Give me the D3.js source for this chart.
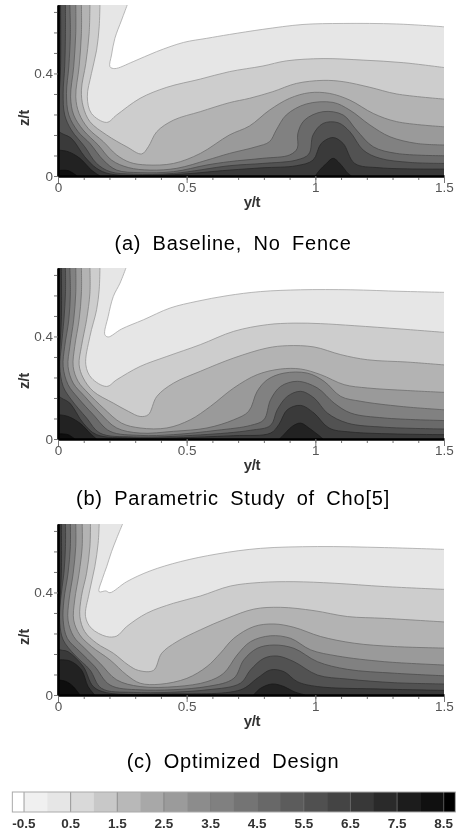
<!DOCTYPE html>
<html>
<head>
  <meta charset="utf-8">
  <title>Contours z/t against y/t</title>
  <script src="https://d3js.org/d3.v7.min.js"></script>
  <style>
    html, body { margin: 0; padding: 0; background: #fff; }
    svg { display: block; filter: blur(0.6px); font-family: "Liberation Sans", Arial, sans-serif; }
    .tick text { fill: #555; font-size: 13.5px; }
    .axis-title { font-weight: bold; font-size: 15px; fill: #333; text-anchor: middle; letter-spacing: -0.3px; }
    .caption { font-size: 20px; fill: #000; text-anchor: middle; word-spacing: 5px; letter-spacing: 0.8px; }
    .legend-label { font-weight: bold; font-size: 13.5px; fill: #333; text-anchor: middle; }
  </style>
</head>
<body>
  <svg width="459" height="833"></svg>

  <script>
    // contour lines, [y/t, z/t], light to dark level
    const baseline = [
      [[.269,.667],[.247,.608],[.221,.537],[.208,.472],[.202,.426],[.221,.419],[.292,.446],[.383,.485],[.488,.521],[.578,.537],[.666,.552],[.796,.572],[.952,.591],[1.108,.595],[1.316,.593],[1.5,.582]],
      [[.163,.667],[.160,.582],[.150,.491],[.130,.400],[.114,.309],[.130,.244],[.189,.209],[.228,.238],[.319,.303],[.423,.346],[.553,.378],[.666,.407],[.796,.429],[.887,.449],[1.030,.458],[1.186,.452],[1.342,.442],[1.5,.423]],
      [[.124,.667],[.121,.556],[.108,.439],[.091,.335],[.098,.270],[.124,.212],[.189,.160],[.267,.114],[.325,.086],[.351,.114],[.384,.173],[.449,.218],[.553,.251],[.666,.286],[.744,.303],[.835,.329],[.926,.361],[1.030,.373],[1.108,.368],[1.212,.346],[1.316,.320],[1.5,.300]],
      [[.091,.667],[.091,.556],[.082,.426],[.069,.309],[.082,.244],[.117,.186],[.176,.134],[.228,.082],[.280,.053],[.345,.043],[.449,.049],[.553,.088],[.666,.160],[.744,.195],[.822,.257],[.900,.303],[.978,.325],[1.056,.322],[1.134,.296],[1.225,.244],[1.316,.212],[1.5,.192]],
      [[.069,.667],[.069,.556],[.061,.426],[.049,.309],[.061,.238],[.098,.179],[.156,.121],[.208,.062],[.273,.033],[.358,.023],[.462,.030],[.579,.062],[.666,.088],[.770,.114],[.822,.134],[.848,.179],[.887,.238],[.965,.281],[1.069,.287],[1.134,.257],[1.212,.199],[1.290,.153],[1.394,.127],[1.5,.121]],
      [[.046,.667],[.048,.556],[.042,.426],[.033,.322],[.042,.238],[.078,.173],[.124,.127],[.176,.062],[.228,.023],[.319,.013],[.449,.017],[.579,.043],[.666,.056],[.796,.069],[.900,.082],[.930,.108],[.932,.166],[.958,.218],[1.030,.251],[1.108,.238],[1.160,.179],[1.225,.114],[1.316,.088],[1.5,.079]],
      [[.029,.667],[.029,.556],[.026,.426],[.020,.322],[.026,.238],[.052,.179],[.104,.114],[.150,.049],[.202,.017],[.293,.007],[.449,.010],[.666,.040],[.796,.049],[.926,.062],[.975,.086],[.991,.160],[1.030,.205],[1.088,.208],[1.134,.173],[1.186,.101],[1.251,.069],[1.368,.053],[1.5,.049]],
      [[.010,.667],[.010,.426],[.004,.300],[0,.179],[.052,.147],[.104,.075],[.150,.030],[.202,.008],[.423,.004],[.666,.023],[.796,.032],[.926,.040],[.991,.062],[1.023,.127],[1.069,.150],[1.108,.127],[1.153,.049],[1.251,.032],[1.5,.027]]
    ];
    const baselineCore = [
      [[0,.101],[.039,.095],[.085,.069],[.130,.023],[.163,0]],
      [[1.0,0],[1.017,.023],[1.043,.049],[1.069,.069],[1.095,.049],[1.127,.010],[1.14,0]],
      [[0,.021],[.039,.021],[.074,0]]
    ];

    const parametric = [
      [[.264,.667],[.241,.608],[.215,.556],[.195,.478],[.182,.407],[.195,.398],[.247,.429],[.332,.465],[.436,.511],[.540,.537],[.657,.559],[.787,.575],[.943,.582],[1.138,.582],[1.333,.576],[1.5,.572]],
      [[.163,.667],[.160,.582],[.150,.504],[.124,.400],[.108,.290],[.130,.238],[.189,.205],[.228,.231],[.319,.283],[.423,.322],[.553,.368],[.683,.420],[.813,.446],[.917,.452],[1.021,.450],[1.151,.442],[1.333,.429],[1.5,.416]],
      [[.124,.667],[.124,.569],[.111,.465],[.091,.361],[.082,.290],[.098,.238],[.137,.186],[.215,.140],[.273,.108],[.319,.088],[.351,.095],[.384,.166],[.449,.218],[.553,.264],[.683,.316],[.813,.355],[.891,.364],[.995,.359],[1.099,.329],[1.203,.309],[1.359,.300],[1.5,.289]],
      [[.091,.667],[.091,.569],[.082,.465],[.065,.361],[.059,.283],[.078,.225],[.117,.179],[.176,.121],[.247,.062],[.319,.043],[.423,.043],[.514,.075],[.592,.127],[.683,.199],[.774,.251],[.865,.273],[.943,.273],[1.021,.251],[1.112,.212],[1.203,.199],[1.359,.189],[1.5,.182]],
      [[.069,.667],[.069,.569],[.061,.465],[.046,.361],[.039,.283],[.059,.218],[.104,.166],[.163,.101],[.228,.043],[.319,.023],[.449,.030],[.579,.043],[.683,.075],[.741,.108],[.774,.186],[.813,.231],[.878,.257],[.969,.257],[1.034,.225],[1.099,.166],[1.177,.147],[1.333,.127],[1.5,.114]],
      [[.046,.667],[.048,.569],[.042,.465],[.026,.361],[.020,.283],[.039,.212],[.078,.160],[.137,.095],[.202,.030],[.319,.014],[.449,.017],[.618,.034],[.748,.053],[.800,.075],[.826,.153],[.865,.205],[.930,.225],[1.008,.199],[1.073,.140],[1.138,.101],[1.268,.082],[1.5,.072]],
      [[.029,.667],[.029,.569],[.023,.465],[.013,.361],[.007,.283],[.020,.205],[.052,.153],[.111,.082],[.163,.023],[.293,.008],[.553,.016],[.748,.034],[.826,.053],[.852,.114],[.891,.166],[.943,.186],[.995,.160],[1.047,.101],[1.125,.062],[1.268,.046],[1.5,.039]],
      [[.013,.667],[.013,.465],[.004,.309],[0,.173],[.046,.140],[.098,.062],[.150,.017],[.293,.004],[.683,.013],[.826,.023],[.858,.056],[.891,.114],[.943,.131],[.995,.101],[1.053,.043],[1.138,.027],[1.5,.017]]
    ];
    const parametricCore = [
      [[0,.095],[.039,.088],[.085,.062],[.130,.017],[.150,0]],
      [[.86,0],[.871,.010],[.910,.049],[.943,.062],[.975,.043],[1.021,.008],[1.03,0]],
      [[0,.020],[.039,.017],[.065,0]]
    ];

    const optimized = [
      [[.251,.667],[.228,.611],[.208,.559],[.189,.500],[.173,.455],[.160,.403],[.186,.406],[.202,.399],[.267,.442],[.358,.484],[.475,.520],[.618,.550],[.787,.572],[1.008,.579],[1.268,.575],[1.5,.568]],
      [[.160,.667],[.156,.592],[.143,.500],[.121,.397],[.107,.306],[.130,.260],[.189,.228],[.228,.230],[.267,.267],[.345,.319],[.449,.358],[.553,.386],[.670,.425],[.787,.439],[.917,.442],[1.073,.436],[1.268,.423],[1.5,.412]],
      [[.126,.667],[.124,.579],[.111,.475],[.091,.384],[.085,.306],[.104,.247],[.150,.202],[.215,.163],[.273,.117],[.312,.096],[.371,.096],[.403,.163],[.462,.208],[.553,.254],[.657,.299],[.761,.335],[.865,.342],[.995,.329],[1.125,.306],[1.268,.299],[1.5,.285]],
      [[.094,.667],[.094,.579],[.082,.475],[.065,.371],[.061,.292],[.085,.234],[.130,.189],[.202,.137],[.267,.078],[.319,.046],[.397,.042],[.501,.065],[.579,.111],[.631,.163],[.683,.221],[.761,.267],[.839,.277],[.917,.264],[1.021,.228],[1.151,.202],[1.307,.189],[1.5,.183]],
      [[.069,.667],[.069,.579],[.059,.475],[.043,.371],[.039,.292],[.061,.228],[.104,.182],[.163,.124],[.228,.059],[.319,.033],[.462,.033],[.579,.052],[.644,.085],[.696,.156],[.748,.208],[.826,.231],[.904,.221],[.982,.176],[1.086,.152],[1.268,.130],[1.5,.117]],
      [[.048,.667],[.048,.579],[.039,.475],[.023,.371],[.020,.292],[.036,.221],[.085,.169],[.143,.111],[.202,.039],[.319,.020],[.579,.033],[.683,.065],[.722,.137],[.774,.182],[.839,.195],[.917,.182],[1.008,.130],[1.125,.100],[1.307,.085],[1.5,.075]],
      [[.029,.667],[.029,.579],[.023,.475],[.010,.371],[.007,.280],[.020,.215],[.065,.156],[.124,.098],[.169,.026],[.293,.010],[.579,.020],[.709,.046],[.748,.098],[.800,.143],[.852,.152],[.917,.130],[1.008,.078],[1.125,.062],[1.307,.048],[1.5,.043]],
      [[.013,.667],[.013,.475],[.004,.306],[0,.182],[.039,.169],[.098,.111],[.137,.033],[.189,.009],[.423,.004],[.709,.020],[.774,.065],[.826,.098],[.878,.091],[.930,.052],[1.008,.033],[1.268,.023],[1.5,.018]]
    ];
    const optimizedCore = [
      [[0,.137],[.046,.133],[.091,.098],[.117,.033],[.143,0]],
      [[.76,0],[.787,.026],[.832,.043],[.878,.033],[.917,.013],[.96,0]],
      [[0,.059],[.033,.052],[.059,.033],[.085,0]]
    ];

    const bandShades = ["#e6e6e6", "#cdcdcd", "#b3b3b3", "#9a9a9a", "#818181", "#6a6a6a", "#525252", "#3a3a3a"];
    const coreShades = ["#222222", "#222222", "#0e0e0e"];

    const xMajor = [0, 0.5, 1, 1.5];
    const xMinor = d3.range(0, 15).map(d => d / 10);
    const zMajor = [0, 0.4];
    const zMinor = [0.08, 0.16, 0.24, 0.32, 0.48, 0.56, 0.64];

    const legendValues = [-0.5, 0.5, 1.5, 2.5, 3.5, 4.5, 5.5, 6.5, 7.5, 8.5];
    const legendBreaks = d3.range(-0.5, 9, 0.5);
    const legendShades = ["#f0f0f0", "#e6e6e6", "#d9d9d9", "#c8c8c8", "#b8b8b8", "#a8a8a8", "#9b9b9b", "#8c8c8c", "#808080", "#747474", "#686868", "#5c5c5c", "#505050", "#444444", "#383838", "#2a2a2a", "#1c1c1c", "#101010"];

    const svg = d3.select("svg");
    const zTop = 0.667;
    const x = d3.scaleLinear().domain([0, 1.5]).range([58, 444]);

    function drawPanel(bottom, lines, cores, caption, captionY, id) {
      const z = d3.scaleLinear().domain([0, zTop]).range([bottom, bottom - 171]);
      const curved = d3.line().x(d => x(d[0])).y(d => z(d[1])).curve(d3.curveCatmullRom.alpha(0.5));
      const straight = d3.line().x(d => x(d[0])).y(d => z(d[1]));
      const g = svg.append("g");

      svg.append("clipPath").attr("id", id).append("rect")
        .attr("x", x(0)).attr("y", z(zTop)).attr("width", x(1.5) - x(0)).attr("height", z(0) - z(zTop));
      const plot = g.append("g").attr("clip-path", `url(#${id})`);

      function addLevel(c, shade) {
        const first = c[0], last = c[c.length - 1];
        const corners = [];
        if (last[0] === 1.5) corners.push([1.5, 0]);
        if (first[0] < 0.5) corners.push([0, 0]);
        if (first[1] === zTop) corners.push([0, zTop]);
        const closing = corners.length ? straight(corners).replace("M", "L") : "";
        plot.append("path").attr("d", curved(c) + closing + "Z").attr("fill", shade);
        plot.append("path").attr("d", curved(c)).attr("fill", "none")
          .attr("stroke", d3.color(shade).darker(0.9)).attr("stroke-width", 0.8);
      }
      lines.forEach((c, i) => addLevel(c, bandShades[i]));
      cores.forEach((c, i) => addLevel(c, coreShades[i]));

      // minor then major ticks, the axis lines go on top
      const xMinorAxis = d3.axisBottom(x).tickValues(xMinor).tickSize(4).tickSizeOuter(0).tickFormat("");
      const xAxis = d3.axisBottom(x).tickValues(xMajor).tickSize(7).tickSizeOuter(0).tickFormat(d3.format("~g")).tickPadding(-1);
      const zMinorAxis = d3.axisLeft(z).tickValues(zMinor).tickSize(4).tickSizeOuter(0).tickFormat("");
      const zAxis = d3.axisLeft(z).tickValues(zMajor).tickSize(4).tickSizeOuter(0).tickFormat(d3.format("~g")).tickPadding(1);
      [[xMinorAxis, `translate(0,${bottom})`], [xAxis, `translate(0,${bottom})`],
       [zMinorAxis, `translate(${x(0)},0)`], [zAxis, `translate(${x(0)},0)`]].forEach(a => {
        const ag = g.append("g").attr("transform", a[1]).call(a[0]);
        ag.select(".domain").attr("stroke", "#000").attr("stroke-width", 2.2);
        ag.selectAll(".tick line").attr("stroke", "#777");
      });

      g.append("text").attr("class", "axis-title").attr("x", 252).attr("y", bottom + 31).text("y/t");
      g.append("text").attr("class", "axis-title")
        .attr("transform", `translate(29,${bottom - 58}) rotate(-90)`).text("z/t");
      g.append("text").attr("class", "caption").attr("x", 233).attr("y", captionY).text(caption);
    }

    drawPanel(176, baseline, baselineCore, "(a) Baseline, No Fence", 250, "clipA");
    drawPanel(439, parametric, parametricCore, "(b) Parametric Study of Cho[5]", 505, "clipB");
    drawPanel(695, optimized, optimizedCore, "(c) Optimized Design", 768, "clipC");

    // legend bar
    const lx = d3.scaleLinear().domain([-0.5, 8.5]).range([24, 443.7]);
    const legend = svg.append("g");
    const barTop = 792, barH = 20;
    legend.append("rect").attr("x", lx(-0.75)).attr("y", barTop).attr("width", lx(-0.5) - lx(-0.75)).attr("height", barH).attr("fill", "#fff");
    legend.selectAll(".swatch").data(legendShades).enter().append("rect")
      .attr("x", (d, i) => lx(legendBreaks[i]))
      .attr("y", barTop)
      .attr("width", lx(0) - lx(-0.5) + 0.5)
      .attr("height", barH)
      .attr("fill", d => d);
    legend.append("rect").attr("x", lx(8.5)).attr("y", barTop).attr("width", lx(8.75) - lx(8.5)).attr("height", barH).attr("fill", "#000");
    legend.selectAll(".sep").data(legendValues).enter().append("line")
      .attr("x1", d => lx(d)).attr("x2", d => lx(d))
      .attr("y1", barTop).attr("y2", barTop + barH)
      .attr("stroke", "#777").attr("stroke-opacity", 0.7);
    legend.append("rect").attr("x", lx(-0.75)).attr("y", barTop).attr("width", lx(8.75) - lx(-0.75)).attr("height", barH)
      .attr("fill", "none").attr("stroke", "#aaa");
    legend.selectAll(".legend-label").data(legendValues).enter().append("text")
      .attr("class", "legend-label")
      .attr("x", d => lx(d))
      .attr("y", 828)
      .text(d => d);
  </script>
</body>
</html>
